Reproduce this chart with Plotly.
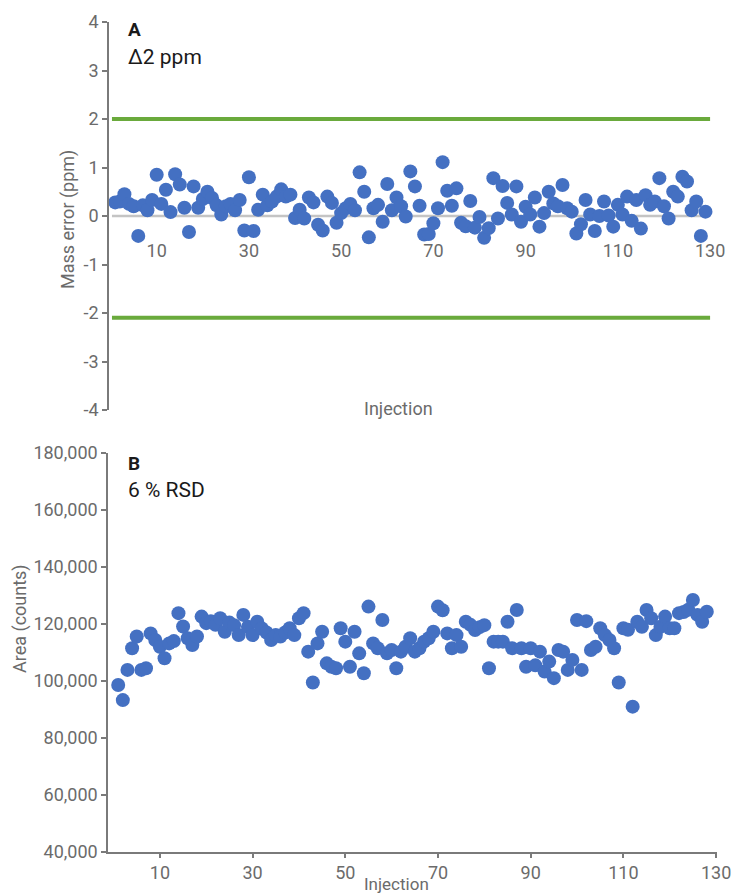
import plotly.graph_objects as go

# ---------------- data ----------------
mass_error_ppm = [
    0.28, 0.30, 0.45, 0.25, 0.20, -0.41, 0.22, 0.12, 0.33, 0.85,
    0.25, 0.54, 0.08, 0.86, 0.65, 0.17, -0.33, 0.61, 0.17, 0.35,
    0.50, 0.37, 0.22, 0.03, 0.20, 0.25, 0.12, 0.33, -0.30, 0.80,
    -0.31, 0.13, 0.44, 0.22, 0.30, 0.40, 0.55, 0.40, 0.44, -0.04,
    0.13, -0.05, 0.38, 0.28, -0.18, -0.30, 0.40, 0.27, -0.14, 0.06,
    0.16, 0.25, 0.12, 0.90, 0.50, -0.44, 0.16, 0.23, -0.12, 0.66,
    0.12, 0.38, 0.20, -0.01, 0.92, 0.61, 0.21, -0.38, -0.37, -0.15,
    0.16, 1.11, 0.52, 0.21, 0.57, -0.14, -0.21, 0.31, -0.24, -0.02,
    -0.45, -0.25, 0.78, -0.05, 0.62, 0.27, 0.03, 0.61, -0.12, 0.19,
    0.03, 0.38, -0.22, 0.06, 0.50, 0.26, 0.20, 0.64, 0.16, 0.09,
    -0.36, -0.17, 0.33, 0.03, -0.31, 0.00, 0.30, 0.01, -0.22, 0.23,
    0.03, 0.40, -0.10, 0.33, -0.26, 0.43, 0.23, 0.30, 0.78, 0.20,
    -0.05, 0.50, 0.40, 0.81, 0.71, 0.12, 0.30, -0.41, 0.09,
]

area_counts = [
    98600, 93300, 103900, 111500, 115600, 103900, 104500, 116700, 114400, 112000,
    108000, 113200, 114000, 123800, 119100, 115000, 112600, 115600, 122600, 120300,
    121000, 119700, 122000, 117300, 120500, 119600, 116100, 123200, 119000, 116100,
    120800, 118400, 117000, 114400, 116100, 115600, 117000, 118500, 116100, 122000,
    123800, 110300, 99500, 113200, 117300, 106200, 105000, 104500, 118500, 113800,
    105000, 117300, 109700, 102700, 126100, 113200, 111500, 121400, 109700, 110900,
    104500, 110300, 112000, 115000, 110300, 111500, 113800, 115000, 117300, 126100,
    124800, 116700, 111500, 116100, 112000, 120800, 119700, 117900, 118900, 119600,
    104500, 113800, 113800, 113800, 120800, 111500, 124900, 111500, 105000, 111500,
    105500, 110300, 103300, 106800, 101000, 110900, 110300, 103900, 107400, 121400,
    103900, 121000, 110900, 112000, 118500, 116100, 114400, 111500, 99500, 118500,
    118000, 91000, 120800, 119000, 124900, 122000, 116100, 119000, 122600, 118500,
    118500, 123800, 124200, 125000, 128400, 123200, 120800, 124300,
]

injection_a = list(range(1, len(mass_error_ppm) + 1))
injection_b = list(range(1, len(area_counts) + 1))

x_ticks = [10, 30, 50, 70, 90, 110, 130]
ppm_ticks = [-4, -3, -2, -1, 0, 1, 2, 3, 4]
ppm_tick_text = ["-4", "-3", "-2", "-1", "0", "1", "2", "3", "4"]
area_ticks = [40000, 60000, 80000, 100000, 120000, 140000, 160000, 180000]

limit_span = [0.3, 130]
upper_limit = [2, 2]
lower_limit = [-2.1, -2.1]
zero_line = [0, 0]

# ---------------- style ----------------
W, H = 733, 896
M_L, M_R, M_T, M_B = 108, 16, 22, 44
PH = H - M_T - M_B

def yfrac(py):
    return (H - M_B - py) / PH

def xfrac(px):
    return (px - M_L) / (W - M_L - M_R)

BLUE = "#4470c2"
GREEN = "#6aaa3c"
AXIS = "#7a7a7a"
TICKC = "#6b6b6b"
FONT = "Roboto"
TICK_SIZE = 18

fig = go.Figure()

# reference lines (panel A)
fig.add_trace(go.Scatter(x=limit_span, y=zero_line, mode="lines",
                         line=dict(color="#c4c4c4", width=2.5),
                         xaxis="x", yaxis="y", hoverinfo="skip", showlegend=False))
fig.add_trace(go.Scatter(x=limit_span, y=upper_limit, mode="lines",
                         line=dict(color=GREEN, width=4),
                         xaxis="x", yaxis="y", hoverinfo="skip", showlegend=False))
fig.add_trace(go.Scatter(x=limit_span, y=lower_limit, mode="lines",
                         line=dict(color=GREEN, width=4),
                         xaxis="x", yaxis="y", hoverinfo="skip", showlegend=False))

fig.add_trace(go.Scatter(x=injection_a, y=mass_error_ppm, mode="markers",
                         marker=dict(color=BLUE, size=14, line=dict(width=0)),
                         xaxis="x", yaxis="y", showlegend=False))
fig.add_trace(go.Scatter(x=injection_b, y=area_counts, mode="markers",
                         marker=dict(color=BLUE, size=14, line=dict(width=0)),
                         xaxis="x2", yaxis="y2", showlegend=False))

top_dom = [yfrac(410), 1.0]
bot_dom = [0.0, yfrac(453)]

tickfont = dict(size=TICK_SIZE, color=TICKC, family=FONT)

fig.update_layout(
    width=W, height=H,
    margin=dict(l=M_L, r=M_R, t=M_T, b=M_B, autoexpand=False),
    paper_bgcolor="white", plot_bgcolor="white",
    font=dict(family=FONT, size=16, color=TICKC),
    showlegend=False,
    xaxis=dict(domain=[0, 1], range=[-0.56, 131.5], anchor="free",
               position=yfrac(238), showline=False, showgrid=False,
               zeroline=False, ticks="", tickvals=x_ticks, tickfont=tickfont),
    yaxis=dict(domain=top_dom, range=[-4, 4], anchor="free", position=0,
               showline=True, linecolor=AXIS, linewidth=1.5,
               ticks="outside", ticklen=5, tickcolor=AXIS, tickwidth=1.5,
               tickvals=ppm_ticks, ticktext=ppm_tick_text,
               showgrid=False, zeroline=False, tickfont=tickfont),
    xaxis2=dict(domain=[0, 1], range=[-1.2, 130.2], anchor="y2",
                showline=True, linecolor=AXIS, linewidth=1.5,
                ticks="outside", ticklen=4, tickcolor=AXIS, tickwidth=1.5,
                tickvals=x_ticks, showgrid=False, zeroline=False,
                tickfont=tickfont),
    yaxis2=dict(domain=bot_dom, range=[40000, 180000], anchor="x2",
                showline=True, linecolor=AXIS, linewidth=1.5,
                ticks="outside", ticklen=5, tickcolor=AXIS, tickwidth=1.5,
                tickvals=area_ticks, tickformat=",d",
                showgrid=False, zeroline=False, tickfont=tickfont),
)

DARK = "#1a1a1a"
ann = [
    dict(text="<b>A</b>", x=xfrac(126), y=yfrac(30), xanchor="left", yanchor="middle",
         font=dict(size=19, color=DARK)),
    dict(text="Δ2 ppm", x=xfrac(126), y=yfrac(57), xanchor="left", yanchor="middle",
         font=dict(size=21, color=DARK)),
    dict(text="<b>B</b>", x=xfrac(126), y=yfrac(463), xanchor="left", yanchor="middle",
         font=dict(size=19, color=DARK)),
    dict(text="6 % RSD", x=xfrac(126), y=yfrac(490), xanchor="left", yanchor="middle",
         font=dict(size=21, color=DARK)),
    dict(text="Injection", x=xfrac(398), y=yfrac(408), xanchor="center", yanchor="middle",
         font=dict(size=18, color=TICKC)),
    dict(text="Injection", x=xfrac(396), y=yfrac(896), xanchor="center", yanchor="bottom",
         font=dict(size=17, color=TICKC)),
    dict(text="Mass error (ppm)", x=xfrac(68), y=yfrac(220), textangle=-90,
         xanchor="center", yanchor="middle", font=dict(size=18, color=TICKC)),
    dict(text="Area (counts)", x=xfrac(20), y=yfrac(619), textangle=-90,
         xanchor="center", yanchor="middle", font=dict(size=18, color=TICKC)),
]
for a in ann:
    a.update(xref="paper", yref="paper", showarrow=False)
fig.update_layout(annotations=ann)

fig.write_html("out.html",
               config={"displayModeBar": False},
               post_script="document.body.style.margin='0';document.body.style.overflow='hidden';")
